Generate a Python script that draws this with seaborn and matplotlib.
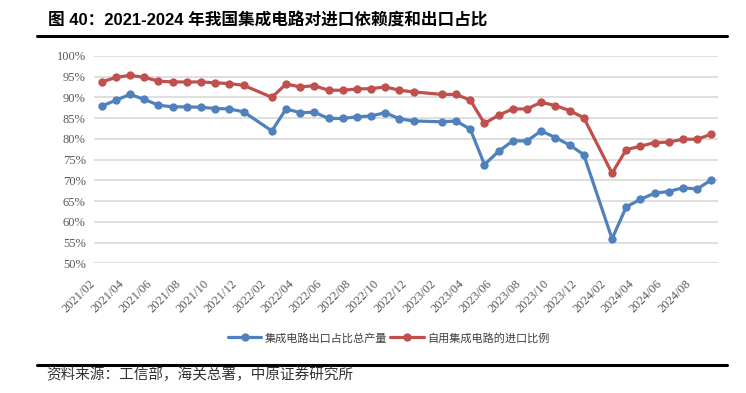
import pandas as pd
import matplotlib.pyplot as plt
import matplotlib.transforms as mtransforms
from matplotlib.lines import Line2D
from matplotlib.ticker import FuncFormatter, MultipleLocator
import seaborn as sns

# Mesi con dato (gennaio manca: dato cumulato gen-feb)
months = (
    [f"2021/{m:02d}" for m in range(2, 13)]
    + [f"2022/{m:02d}" for m in range(2, 13)]
    + [f"2023/{m:02d}" for m in range(2, 13)]
    + [f"2024/{m:02d}" for m in range(2, 10)]
)

# 集成电路出口占比总产量 (%)
export_share = [
    87.9, 89.3, 90.7, 89.5, 88.1, 87.7, 87.7, 87.6, 87.3, 87.2, 86.5,
    81.9, 87.2, 86.3, 86.4, 84.9, 84.9, 85.3, 85.5, 86.3, 84.8, 84.3,
    84.1, 84.3, 82.3, 73.8, 77.0, 79.5, 79.5, 81.9, 80.3, 78.5, 76.2,
    55.9, 63.6, 65.4, 66.9, 67.3, 68.2, 67.9, 70.1,
]

# 自用集成电路的进口比例 (%)
import_share = [
    93.7, 94.8, 95.3, 94.8, 93.9, 93.7, 93.7, 93.7, 93.5, 93.3, 92.9,
    90.0, 93.2, 92.5, 92.8, 91.7, 91.7, 92.0, 92.1, 92.5, 91.7, 91.3,
    90.7, 90.7, 89.3, 83.7, 85.7, 87.2, 87.2, 88.8, 88.0, 86.8, 85.1,
    71.7, 77.4, 78.2, 79.1, 79.2, 79.9, 79.9, 81.1,
]

tick_labels = [f"{y}/{m:02d}" for y in range(2021, 2025) for m in range(2, 13, 2)][:22]

series_names = ["集成电路出口占比总产量", "自用集成电路的进口比例"]
colors = {series_names[0]: "#4F81BD", series_names[1]: "#C0504D"}


def month_index(label: str) -> int:
    y, m = label.split("/")
    return (int(y) - 2021) * 12 + int(m) - 2


df = pd.DataFrame({"month": months, series_names[0]: export_share, series_names[1]: import_share})
df["x"] = df["month"].map(month_index)
long_df = df.melt(id_vars=["month", "x"], value_vars=series_names, var_name="serie", value_name="valore")

sns.set_theme(style="white")
plt.rcParams["font.family"] = ["Liberation Sans", "Noto Sans CJK SC", "DejaVu Sans"]

fig = plt.figure(figsize=(7.46, 3.93), dpi=100)
ax = fig.add_axes([0.126, 0.330, 0.836, 0.528])

sns.lineplot(data=long_df, x="x", y="valore", hue="serie", palette=colors,
             marker="o", markersize=6, markeredgewidth=0, linewidth=2.3,
             ax=ax, legend=False, sort=True)

# Asse Y
ax.set_ylim(50, 100)
ax.yaxis.set_major_locator(MultipleLocator(5))
ax.yaxis.set_major_formatter(FuncFormatter(lambda v, _: f"{v:.0f}%"))
ax.grid(axis="y", color="#D9D9D9", linewidth=1.2)
ax.set_axisbelow(True)

# Asse X
ax.set_xlim(-0.55, 43.45)
ax.set_xticks([month_index(t) for t in tick_labels])
ax.set_xticklabels(tick_labels, rotation=45, ha="right", va="center", rotation_mode="anchor")

ax.tick_params(axis="both", length=0, labelsize=9, labelcolor="#595959")
ax.tick_params(axis="y", pad=6)
for lbl in ax.get_xticklabels() + ax.get_yticklabels():
    lbl.set_family(["Liberation Serif", "DejaVu Serif"])
ax.set_xlabel("")
ax.set_ylabel("")
for s in ax.spines.values():
    s.set_visible(False)

# spostamento etichette X (dopo tick_params, che resetta le trasformazioni)
offset = mtransforms.ScaledTranslation(-8 / 100, -14 / 100, fig.dpi_scale_trans)
for lbl in ax.get_xticklabels():
    lbl.set_transform(lbl.get_transform() + offset)

# Legenda
handles = [Line2D([0], [0], color=colors[n], lw=2.3, marker="o", markersize=6, markeredgewidth=0) for n in series_names]
fig.legend(handles, series_names, loc="center", bbox_to_anchor=(0.521, 0.140), ncol=2,
           frameon=False, fontsize=8, handlelength=3, columnspacing=0.3, handletextpad=0.3,
           labelcolor="#404040")

# Titolo, linee e fonte
fig.text(0.064, 0.949, "图 40：2021-2024 年我国集成电路对进口依赖度和出口占比",
         fontsize=12, fontweight="bold", va="center", ha="left", color="black")
fig.add_artist(Line2D([37 / 746, 727 / 746], [1 - 36 / 393] * 2, color="black", lw=2.2))
fig.add_artist(Line2D([37 / 746, 727 / 746], [1 - 365 / 393] * 2, color="black", lw=2.2))
fig.text(0.062, 0.046, "资料来源：工信部，海关总署，中原证券研究所",
         fontsize=10.5, va="center", ha="left", color="#333333", family=["Noto Sans CJK SC"],
         fontweight="light")

fig.savefig("out.png", dpi=100)
plt.close(fig)
